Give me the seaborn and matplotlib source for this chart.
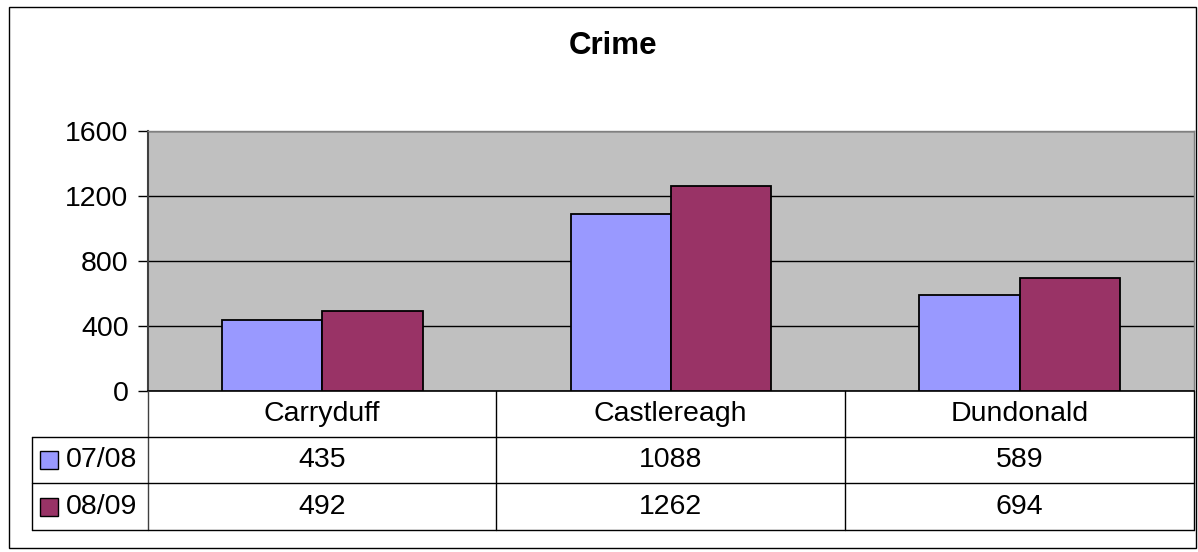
import pandas as pd
import matplotlib.pyplot as plt
import seaborn as sns
from matplotlib.lines import Line2D
from matplotlib.patches import Rectangle

# =========================================================
# DATOS
# =========================================================
areas = ["Carryduff", "Castlereagh", "Dundonald"]
series = ["07/08", "08/09"]
crime_0708 = [435, 1088, 589]
crime_0809 = [492, 1262, 694]
yticks = [0, 400, 800, 1200, 1600]
colores = ["#9999FF", "#993366"]

df = pd.DataFrame({
    "area": areas * 2,
    "year": [series[0]] * 3 + [series[1]] * 3,
    "crimes": crime_0708 + crime_0809,
})

# =========================================================
# FIGURA
# =========================================================
W, H = 1198, 552
FS = 20.5
sns.set_style("white")
plt.rcParams["font.family"] = ["Liberation Sans", "DejaVu Sans"]
plt.rcParams["text.color"] = "black"
plt.rcParams["ytick.color"] = "black"
plt.rcParams["ytick.labelcolor"] = "black"

fig = plt.figure(figsize=(W / 100, H / 100), dpi=100)


def fx(x):
    return x / W


def fy(y):
    return 1 - y / H


# borde exterior
fig.add_artist(Rectangle((fx(9), fy(548)), fx(1196) - fx(9), fy(7) - fy(548),
                         transform=fig.transFigure, fill=False,
                         edgecolor="black", linewidth=1))

left, right, top, bottom = 148, 1194, 131, 391
ax = fig.add_axes([fx(left), fy(bottom), fx(right) - fx(left), fy(top) - fy(bottom)])
ax.set_facecolor("#C0C0C0")

sns.barplot(data=df, x="area", y="crimes", hue="year", palette=colores,
            edgecolor="black", linewidth=1.3, width=0.575, gap=0,
            saturation=1, ax=ax, zorder=3, legend=False)

ax.set_ylim(0, 1600)
ax.set_xlim(-0.5, 2.5)
ax.set_yticks(yticks)
ax.set_yticklabels([str(v) for v in yticks], fontsize=FS, color="black")
ax.set_xticks([])
ax.set_xlabel("")
ax.set_ylabel("")
ax.yaxis.grid(True, color="black", linewidth=1)
ax.set_axisbelow(True)
ax.tick_params(axis="y", direction="out", length=7, width=1, color="black", left=True, pad=7)
for s in ["top", "right"]:
    ax.spines[s].set_color("#808080")
    ax.spines[s].set_linewidth(1)
ax.spines["left"].set_color("#404040")
ax.spines["left"].set_linewidth(1.5)
ax.spines["bottom"].set_color("black")
ax.spines["bottom"].set_linewidth(1.2)

fig.text(fx(613), fy(46), "Crime", ha="center", va="center",
         fontsize=22.5, fontweight="bold", color="black")

# =========================================================
# TABLA DE DATOS
# =========================================================
cols = [148, 496, 845, 1194]
rows = [391, 437, 483, 530]


def linea(x0, y0, x1, y1, color="black", lw=1):
    fig.add_artist(Line2D([fx(x0), fx(x1)], [fy(y0), fy(y1)],
                          transform=fig.transFigure, color=color, linewidth=lw))


for x in cols:
    linea(x, rows[0], x, rows[3], color="#404040" if x == 148 else "black")
linea(32, rows[1], 32, rows[3])
for y in rows[1:]:
    linea(32, y, 1194, y)

for i, area in enumerate(areas):
    cx = (cols[i] + cols[i + 1]) / 2
    fig.text(fx(cx), fy((rows[0] + rows[1]) / 2), area, ha="center",
             va="center", fontsize=FS, color="black")
    for j, vals in enumerate([crime_0708, crime_0809]):
        fig.text(fx(cx), fy((rows[j + 1] + rows[j + 2]) / 2), str(vals[i]),
                 ha="center", va="center", fontsize=FS, color="black")

for j, nombre in enumerate(series):
    cy = (rows[j + 1] + rows[j + 2]) / 2
    fig.add_artist(Rectangle((fx(40), fy(cy + 9)), fx(18), fy(0) - fy(18),
                             transform=fig.transFigure, facecolor=colores[j],
                             edgecolor="black", linewidth=1))
    fig.text(fx(66), fy(cy), nombre, ha="left", va="center", fontsize=FS,
             color="black")

fig.savefig("out.png", dpi=100)
